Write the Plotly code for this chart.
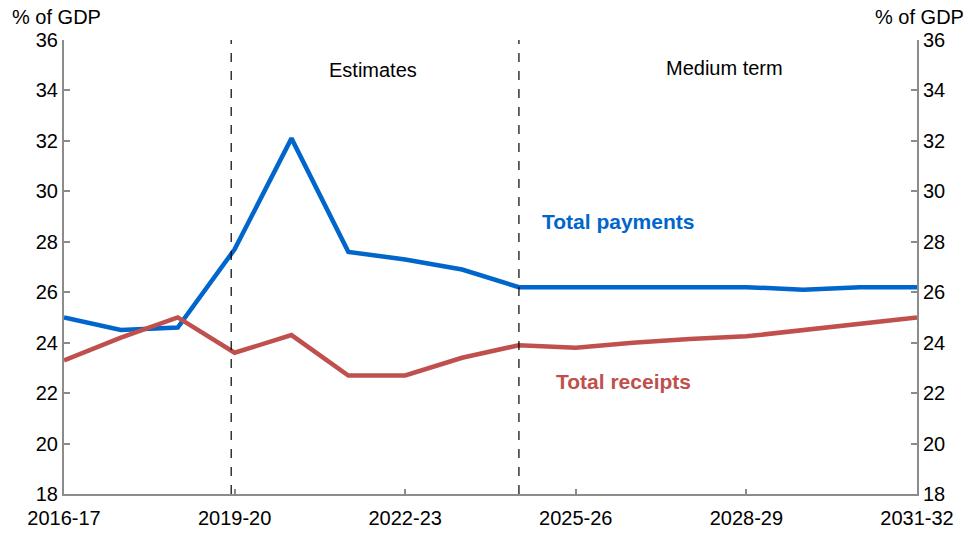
import plotly.graph_objects as go

years = ["2016-17", "2017-18", "2018-19", "2019-20", "2020-21", "2021-22", "2022-23", "2023-24",
         "2024-25", "2025-26", "2026-27", "2027-28", "2028-29", "2029-30", "2030-31", "2031-32"]
payments = [25.0, 24.5, 24.6, 27.7, 32.1, 27.6, 27.3, 26.9, 26.2, 26.2, 26.2, 26.2, 26.2, 26.1, 26.2, 26.2]
receipts = [23.3, 24.2, 25.0, 23.6, 24.3, 22.7, 22.7, 23.4, 23.9, 23.8, 24.0, 24.15, 24.25, 24.5, 24.75, 25.0]
tick_labels = ["2016-17", "2019-20", "2022-23", "2025-26", "2028-29", "2031-32"]

BLUE = "#0066CC"
RED = "#C0504D"
AX = "#8C8C8C"
FONT = "Liberation Sans, Arial, sans-serif"
FS = 20

x = list(range(len(years)))
fig = go.Figure()
fig.add_trace(go.Scatter(x=x, y=payments, mode="lines", line=dict(color=BLUE, width=4.5),
                         name="Total payments", showlegend=False))
fig.add_trace(go.Scatter(x=x, y=receipts, mode="lines", line=dict(color=RED, width=4.5),
                         name="Total receipts", showlegend=False))
fig.add_trace(go.Scatter(x=[0], y=[18], yaxis="y2", mode="markers", marker=dict(opacity=0),
                         showlegend=False, hoverinfo="skip"))

tickvals = [years.index(t) for t in tick_labels]

fig.update_layout(
    width=970, height=533,
    margin=dict(l=64, r=53, t=40, b=39),
    plot_bgcolor="white", paper_bgcolor="white",
    font=dict(family=FONT, size=FS, color="black"),
    xaxis=dict(range=[0, 15], tickvals=tickvals, ticktext=tick_labels, showgrid=False,
               zeroline=False, showline=True, linecolor=AX, linewidth=2, automargin=False,
               ticks="inside", ticklen=5, tickcolor=AX, tickwidth=2, tickfont=dict(size=FS),
               ticklabelstandoff=5),
    yaxis=dict(range=[18, 36], dtick=2, showgrid=False, zeroline=False, showline=True,
               linecolor=AX, linewidth=2, ticks="inside", ticklen=6, tickcolor=AX, tickwidth=2,
               tickfont=dict(size=FS), automargin=False),
    yaxis2=dict(range=[18, 36], dtick=2, overlaying="y", side="right", showgrid=False,
                zeroline=False, showline=True, linecolor=AX, linewidth=2, ticks="inside",
                ticklen=6, tickcolor=AX, tickwidth=2, tickfont=dict(size=FS), automargin=False),
)

for xv in [2.94, 8.0]:
    fig.add_shape(type="line", xref="x", yref="y", x0=xv, x1=xv, y0=18, y1=36,
                  line=dict(color="black", width=1.2, dash="dash"))

fig.add_annotation(text="% of GDP", xref="paper", yref="paper", x=-0.063, y=1.0, yshift=23,
                   xanchor="left", yanchor="middle", showarrow=False, font=dict(size=FS))
fig.add_annotation(text="% of GDP", xref="paper", yref="paper", x=1.057, y=1.0, yshift=23,
                   xanchor="right", yanchor="middle", showarrow=False, font=dict(size=FS))
fig.add_annotation(text="Estimates", x=5.43, y=34.8, xref="x", yref="y", showarrow=False,
                   font=dict(size=FS))
fig.add_annotation(text="Medium term", x=11.62, y=34.9, xref="x", yref="y", showarrow=False,
                   font=dict(size=FS))
fig.add_annotation(text="<b>Total payments</b>", x=9.74, y=28.8, xref="x", yref="y",
                   showarrow=False, font=dict(size=21, color=BLUE))
fig.add_annotation(text="<b>Total receipts</b>", x=9.83, y=22.45, xref="x", yref="y",
                   showarrow=False, font=dict(size=21, color=RED))

fig.write_html("out.html")
